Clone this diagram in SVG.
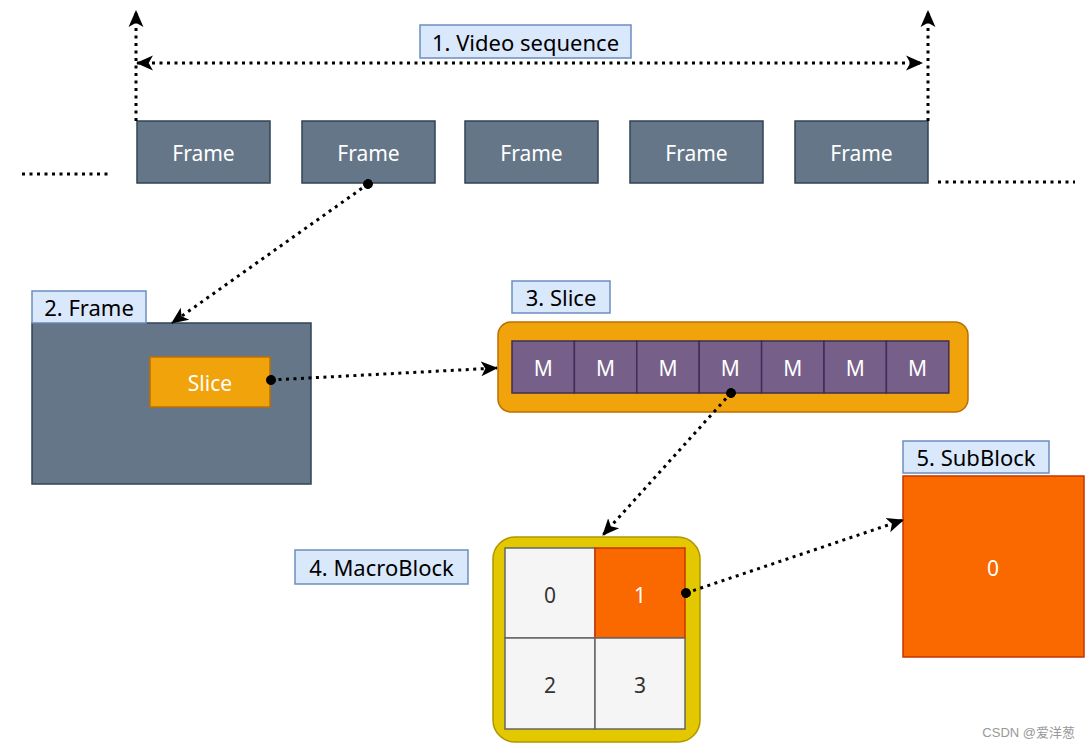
<svg xmlns="http://www.w3.org/2000/svg" width="1091" height="748" viewBox="0 0 1091 748">
<style>
text{font-family:"Comic Sans MS","Noto Sans","Liberation Sans",sans-serif;}
.frame{fill:#647687;stroke:#314354;stroke-width:1.5}
.wt{fill:#ffffff;font-size:21px;text-anchor:middle;dominant-baseline:central}
.lbl{fill:#dae8fc;stroke:#6c8ebf;stroke-width:1.5}
.lt{fill:#000;font-size:22px;text-anchor:middle;dominant-baseline:central}
.m{fill:#76608a;stroke:#432d57;stroke-width:1.5}
.cell{fill:#f5f5f5;stroke:#666666;stroke-width:1.5}
.dt{fill:#333;font-size:21px;text-anchor:middle;dominant-baseline:central}
.or{fill:#fa6800;stroke:#c73500;stroke-width:1.5}
.dot{fill:none;stroke:#000;stroke-width:3;stroke-dasharray:3 4.5}
</style>
<defs>
<marker id="arr" viewBox="0 0 16 16" refX="15" refY="8" markerWidth="17" markerHeight="17" markerUnits="userSpaceOnUse" orient="auto-start-reverse">
<path d="M0,1 L16,8 L0,15 L4,8 Z" fill="#000"/>
</marker>
<marker id="ov" viewBox="0 0 10 10" refX="5" refY="5" markerWidth="10" markerHeight="10" markerUnits="userSpaceOnUse" orient="auto">
<circle cx="5" cy="5" r="5" fill="#000"/>
</marker>
</defs>
<rect width="1091" height="748" fill="#fff"/>
<g id="label1"><rect class="lbl" x="420" y="25" width="211" height="33"/><text class="lt" x="525.5" y="42">1. Video sequence</text></g>
<g id="frame1"><rect class="frame" x="137" y="121" width="133" height="62"/><text class="wt" x="203.5" y="153">Frame</text></g>
<g id="frame2"><rect class="frame" x="302" y="121" width="133" height="62"/><text class="wt" x="368.5" y="153">Frame</text></g>
<g id="frame3"><rect class="frame" x="465" y="121" width="133" height="62"/><text class="wt" x="531.5" y="153">Frame</text></g>
<g id="frame4"><rect class="frame" x="630" y="121" width="133" height="62"/><text class="wt" x="696.5" y="153">Frame</text></g>
<g id="frame5"><rect class="frame" x="795" y="121" width="133" height="62"/><text class="wt" x="861.5" y="153">Frame</text></g>
<g id="bigframe">
<rect class="frame" x="32" y="323" width="279" height="161"/>
<rect x="150" y="357" width="120" height="50" fill="#f0a30a" stroke="#bd7000" stroke-width="1.5"/>
<text class="wt" x="210" y="383">Slice</text>
</g>
<g id="label2"><rect class="lbl" x="32" y="291" width="114" height="32"/><text class="lt" x="89" y="307">2. Frame</text></g>
<g id="slice">
<rect x="498" y="322" width="470" height="90" rx="13" fill="#f0a30a" stroke="#bd7000" stroke-width="1.5"/>
<rect class="m" x="512" y="341" width="62.4" height="52"/><text class="wt" x="543.2" y="368">M</text>
<rect class="m" x="574.4" y="341" width="62.4" height="52"/><text class="wt" x="605.6" y="368">M</text>
<rect class="m" x="636.8" y="341" width="62.4" height="52"/><text class="wt" x="668" y="368">M</text>
<rect class="m" x="699.2" y="341" width="62.4" height="52"/><text class="wt" x="730.4" y="368">M</text>
<rect class="m" x="761.6" y="341" width="62.4" height="52"/><text class="wt" x="792.8" y="368">M</text>
<rect class="m" x="824" y="341" width="62.4" height="52"/><text class="wt" x="855.2" y="368">M</text>
<rect class="m" x="886.4" y="341" width="62.4" height="52"/><text class="wt" x="917.6" y="368">M</text>
</g>
<g id="label3"><rect class="lbl" x="512" y="281" width="98" height="32"/><text class="lt" x="561" y="297">3. Slice</text></g>
<g id="macroblock">
<rect x="493" y="537" width="207" height="205" rx="22" fill="#e3c800" stroke="#b09500" stroke-width="1.5"/>
<rect class="cell" x="505" y="548" width="90" height="90"/><text class="dt" x="550" y="595">0</text>
<rect class="or" x="595" y="548" width="90" height="90"/><text class="wt" x="640" y="595">1</text>
<rect class="cell" x="505" y="638" width="90" height="91"/><text class="dt" x="550" y="685">2</text>
<rect class="cell" x="595" y="638" width="90" height="91"/><text class="dt" x="640" y="685">3</text>
</g>
<g id="label4"><rect class="lbl" x="295" y="550" width="173" height="34"/><text class="lt" x="381.5" y="567">4. MacroBlock</text></g>
<g id="subblock"><rect class="or" x="903" y="476" width="181" height="181"/><text class="wt" x="993" y="568">0</text></g>
<g id="label5"><rect class="lbl" x="903" y="441" width="146" height="32"/><text class="lt" x="976" y="457">5. SubBlock</text></g>
<g id="connectors">
<line class="dot" x1="136" y1="121" x2="136" y2="11" marker-end="url(#arr)"/>
<line class="dot" x1="928" y1="121" x2="928" y2="11" marker-end="url(#arr)"/>
<line class="dot" x1="137" y1="63" x2="922" y2="63" marker-start="url(#arr)" marker-end="url(#arr)"/>
<line class="dot" x1="22" y1="174" x2="110" y2="174"/>
<line class="dot" x1="938" y1="182" x2="1075" y2="182"/>
<line class="dot" x1="368" y1="184" x2="172" y2="323" marker-start="url(#ov)" marker-end="url(#arr)"/>
<line class="dot" x1="271" y1="380" x2="497" y2="368" marker-start="url(#ov)" marker-end="url(#arr)"/>
<line class="dot" x1="731" y1="393" x2="603" y2="535" marker-start="url(#ov)" marker-end="url(#arr)"/>
<line class="dot" x1="686" y1="593" x2="903" y2="520" marker-start="url(#ov)" marker-end="url(#arr)"/>
</g>
<text x="1075" y="737" text-anchor="end" fill="#999" font-size="13" style="font-family:'Liberation Sans','Noto Sans CJK SC',sans-serif">CSDN @爱洋葱</text>
</svg>
